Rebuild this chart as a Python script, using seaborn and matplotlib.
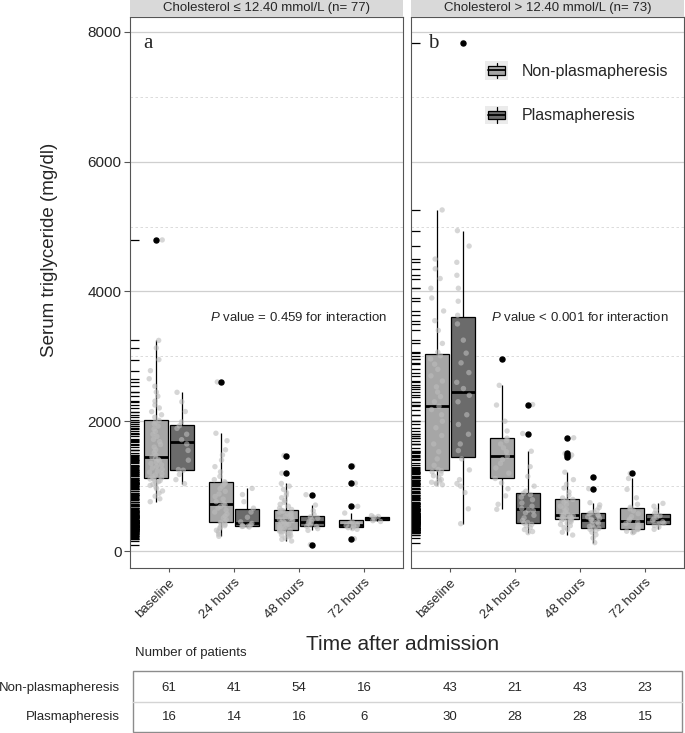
import numpy as np
import pandas as pd
import matplotlib
matplotlib.use("Agg")
import matplotlib.pyplot as plt
import matplotlib.transforms as mtransforms
from matplotlib.patches import Patch, Rectangle
from matplotlib.lines import Line2D
from matplotlib.legend_handler import HandlerBase
import seaborn as sns

# ---------------- data (mg/dl) ----------------
times = ["baseline", "24 hours", "48 hours", "72 hours"]
groups = ["Non-plasmapheresis", "Plasmapheresis"]
panel_titles = ["Cholesterol \u2264 12.40 mmol/L (n= 77)",
                "Cholesterol > 12.40 mmol/L (n= 73)"]
panel_letters = ["a", "b"]
p_texts = [r"$P$ value = 0.459 for interaction",
           r"$P$ value < 0.001 for interaction"]

# panel a : cholesterol <= 12.40
a_base_non = [760, 805, 845, 890, 925, 960, 985, 1010, 1030, 1050, 1068, 1085, 1098, 1110, 1120,
              1129, 1150, 1172, 1190, 1215, 1232, 1258, 1280, 1305, 1328, 1350, 1372, 1390, 1412,
              1430, 1446, 1482, 1518, 1560, 1602, 1640, 1685, 1720, 1765, 1800, 1842, 1880, 1925,
              1958, 1990, 2015, 2062, 2100, 2148, 2205, 2250, 2310, 2385, 2450, 2540, 2655, 2780,
              2950, 3130, 3246, 4795]
a_base_pla = [1037, 1100, 1180, 1245, 1255, 1400, 1550, 1650, 1716, 1800, 1890, 1930, 1990,
              2150, 2300, 2446]
a_24_non = [226, 260, 300, 320, 350, 370, 390, 410, 425, 440, 452, 480, 510, 540, 570, 600, 630,
            660, 690, 710, 729, 760, 800, 840, 880, 920, 960, 1000, 1030, 1050, 1068, 1100, 1150,
            1220, 1300, 1400, 1480, 1560, 1700, 1815, 2606]
a_24_pla = [370, 378, 382, 384, 390, 405, 425, 449, 520, 600, 660, 760, 870, 965]
a_48_non = [154, 180, 200, 220, 235, 250, 262, 275, 285, 295, 303, 310, 316, 320, 332, 345, 360,
            375, 390, 400, 412, 425, 437, 450, 460, 470, 474, 480, 490, 505, 520, 535, 548, 560,
            572, 585, 598, 610, 622, 630, 640, 660, 690, 720, 750, 780, 820, 860, 900, 950, 1000,
            1041, 1200, 1472]
a_48_pla = [98, 318, 345, 377, 381, 405, 425, 440, 452, 480, 505, 525, 561, 620, 708, 868]
a_72_non = [190, 334, 345, 360, 372, 380, 388, 393, 397, 410, 430, 449, 585, 688, 1046, 1314]
a_72_pla = [455, 468, 485, 521, 532, 545]

# panel b : cholesterol > 12.40
b_base_non = [1021, 1030, 1045, 1060, 1080, 1100, 1130, 1160, 1190, 1220, 1235, 1257, 1320,
              1420, 1530, 1650, 1780, 1900, 2000, 2100, 2180, 2231, 2300, 2380, 2450, 2530, 2620,
              2700, 2800, 2880, 2960, 3010, 3064, 3200, 3400, 3550, 3700, 3900, 4050, 4200, 4350,
              4500, 5257]
b_base_pla = [421, 650, 900, 1000, 1040, 1100, 1250, 1420, 1548, 1650, 1800, 1950, 2100, 2300,
              2400, 2504, 2600, 2750, 2900, 3050, 3250, 3500, 3633, 3850, 4050, 4250, 4450, 4700,
              4938, 7837]
b_24_non = [642, 720, 850, 960, 1050, 1118, 1200, 1280, 1350, 1410, 1462, 1530, 1590, 1650,
            1700, 1739, 1850, 2000, 2250, 2554, 2960]
b_24_pla = [283, 300, 330, 360, 390, 410, 430, 440, 470, 510, 550, 590, 620, 630, 654, 690, 740,
            790, 830, 870, 890, 922, 1000, 1150, 1300, 1538, 1811, 2257]
b_48_non = [246, 290, 330, 360, 390, 410, 430, 450, 465, 478, 484, 492, 500, 508, 515, 522, 528,
            535, 540, 545, 550, 554, 570, 590, 615, 640, 665, 690, 720, 750, 780, 795, 817, 860,
            910, 970, 1030, 1100, 1215, 1452, 1480, 1503, 1745]
b_48_pla = [129, 200, 250, 290, 315, 335, 348, 356, 380, 405, 430, 450, 465, 476, 490, 505, 525,
            545, 560, 575, 588, 600, 630, 670, 710, 745, 960, 1138]
b_72_non = [283, 295, 305, 318, 330, 340, 348, 370, 400, 425, 445, 462, 490, 530, 575, 620, 650,
            674, 720, 820, 950, 1118, 1195]
b_72_pla = [334, 370, 395, 415, 427, 450, 475, 498, 520, 545, 570, 580, 630, 690, 734]

panel_data = [
    {("baseline", groups[0]): a_base_non, ("baseline", groups[1]): a_base_pla,
     ("24 hours", groups[0]): a_24_non, ("24 hours", groups[1]): a_24_pla,
     ("48 hours", groups[0]): a_48_non, ("48 hours", groups[1]): a_48_pla,
     ("72 hours", groups[0]): a_72_non, ("72 hours", groups[1]): a_72_pla},
    {("baseline", groups[0]): b_base_non, ("baseline", groups[1]): b_base_pla,
     ("24 hours", groups[0]): b_24_non, ("24 hours", groups[1]): b_24_pla,
     ("48 hours", groups[0]): b_48_non, ("48 hours", groups[1]): b_48_pla,
     ("72 hours", groups[0]): b_72_non, ("72 hours", groups[1]): b_72_pla},
]

rows = []
for p, d in enumerate(panel_data):
    for (t, g), vals in d.items():
        for v in vals:
            rows.append((p, t, g, v))
df = pd.DataFrame(rows, columns=["panel", "time", "group", "value"])

# ---------------- style ----------------
sns.set_style("white")
plt.rcParams["font.family"] = ["Liberation Sans", "DejaVu Sans"]
plt.rcParams["mathtext.fontset"] = "custom"
plt.rcParams["mathtext.it"] = "Liberation Sans:italic"
plt.rcParams["mathtext.rm"] = "Liberation Sans"

c_non = "#a6a6a6"
c_pla = "#6b6b6b"
c_dot = "#bcbcbc"

W, H = 685, 733


def fbox(x0, y0, x1, y1):
    return [x0 / W, 1 - y1 / H, (x1 - x0) / W, (y1 - y0) / H]


class BoxKey(HandlerBase):
    def create_artists(self, legend, orig_handle, xdescent, ydescent, width, height, fontsize, trans):
        x0, y0 = -xdescent, -ydescent
        fc = orig_handle.get_facecolor()
        bg = Rectangle((x0, y0), width, height, facecolor="#ebebeb", edgecolor="none", transform=trans)
        cx = x0 + width / 2
        wh = Line2D([cx, cx], [y0 + 0.08 * height, y0 + 0.92 * height], color="black", lw=0.9, transform=trans)
        bx = Rectangle((x0 + 0.12 * width, y0 + 0.27 * height), 0.76 * width, 0.46 * height,
                       facecolor=fc, edgecolor="black", lw=0.9, transform=trans)
        md = Line2D([x0 + 0.12 * width, x0 + 0.88 * width], [y0 + 0.5 * height] * 2,
                    color="black", lw=1.3, transform=trans)
        return [bg, wh, bx, md]


fig = plt.figure(figsize=(W / 100, H / 100), dpi=100)
ax_a = fig.add_axes(fbox(130, 17, 403, 568))
ax_b = fig.add_axes(fbox(411, 17, 684, 568), sharey=ax_a)
axes = [ax_a, ax_b]
strips = [fig.add_axes(fbox(130, 0, 403, 17)), fig.add_axes(fbox(411, 0, 684, 17))]

np.random.seed(7)
for p, ax in enumerate(axes):
    sub = df[df.panel == p]
    sns.boxplot(data=sub, x="time", y="value", hue="group", order=times, hue_order=groups,
                palette=[c_non, c_pla], saturation=1, width=0.8, gap=0.1, linewidth=0.9,
                linecolor="black", fliersize=3.6,
                flierprops=dict(marker="o", markerfacecolor="black", markeredgecolor="black", zorder=5),
                medianprops=dict(linewidth=2, color="black"), showcaps=False,
                legend=False, ax=ax)
    sns.stripplot(data=sub, x="time", y="value", hue="group", order=times, hue_order=groups,
                  palette=[c_dot, c_dot], dodge=True, jitter=0.21, size=3.9, alpha=0.6,
                  linewidth=0, legend=False, ax=ax, zorder=3)
    sns.rugplot(data=sub, y="value", ax=ax, height=0.032, color="black", linewidth=0.9,
                expand_margins=False)

    ax.set_xlim(-0.6, 3.6)
    ax.set_ylim(-262, 8231)
    ax.set_yticks([0, 2000, 4000, 6000, 8000])
    ax.set_yticks([1000, 3000, 5000, 7000], minor=True)
    ax.grid(axis="y", which="major", color="#cfcfcf", lw=0.9)
    ax.grid(axis="y", which="minor", color="#d6d6d6", ls=(0, (3, 3)), lw=0.6)
    ax.grid(axis="x", visible=False)
    ax.set_axisbelow(True)
    ax.set_xticks(range(len(times)))
    ax.set_xticklabels(times, rotation=45, ha="right", rotation_mode="anchor", fontsize=9.5)
    ax.tick_params(axis="x", length=3, width=0.8, color="#555555", pad=3, bottom=True)
    ax.tick_params(axis="y", which="minor", length=0)
    ax.set_xlabel("")
    ax.set_ylabel("")
    for s in ax.spines.values():
        s.set_color("#555555")
        s.set_linewidth(0.8)

    ax.text([-0.32, -0.26][p], 7826, panel_letters[p], family="Liberation Serif", size=15,
            ha="center", va="center")
    ax.text(2.0, 3600, p_texts[p], ha="center", va="center", size=9.5)

    st = strips[p]
    st.set_facecolor("#d9d9d9")
    st.set_xticks([])
    st.set_yticks([])
    for s in st.spines.values():
        s.set_visible(False)
    st.text(0.5, 0.5, panel_titles[p], ha="center", va="center", size=9.5, transform=st.transAxes)

ax_a.tick_params(axis="y", which="major", length=4, width=0.8, color="#555555", labelsize=11,
                 left=True, pad=2)
ax_b.tick_params(axis="y", which="both", length=0, labelleft=False)

# legend
handles = [Patch(facecolor=c_non, label=groups[0]), Patch(facecolor=c_pla, label=groups[1])]
ax_b.legend(handles=handles, handler_map={Patch: BoxKey()}, loc="upper left",
            bbox_to_anchor=(485 / W, 1 - 61 / H), bbox_transform=fig.transFigure,
            frameon=False, borderpad=0, borderaxespad=0, handlelength=1.45, handleheight=1.45,
            handletextpad=0.85, labelspacing=1.6, fontsize=11.5)

# axis titles
fig.text(50 / W, 1 - 250 / H, "Serum triglyceride (mg/dl)", rotation=90, ha="center",
         va="center", size=13.5)
fig.text(403 / W, 1 - 645 / H, "Time after admission", ha="center", va="center", size=15)

# number-of-patients table
fig.text(135 / W, 1 - 653 / H, "Number of patients", ha="left", va="center", size=9.5)
fig.add_artist(Rectangle((133 / W, 1 - 732 / H), (682 - 133) / W, (732 - 670.7) / H,
                         transform=fig.transFigure, fill=False, edgecolor="#8c8c8c", lw=1))
fig.add_artist(Line2D([133 / W, 682 / W], [1 - 701.7 / H] * 2, transform=fig.transFigure,
                      color="#d4d4d4", lw=1))
row_y = [687.7, 716.7]
for r, g in enumerate(groups):
    fig.text(120 / W, 1 - row_y[r] / H, g, ha="right", va="center", size=9.5)
for p, ax in enumerate(axes):
    trans = mtransforms.blended_transform_factory(ax.transData, fig.transFigure)
    for i, t in enumerate(times):
        for r, g in enumerate(groups):
            ax.text(i, 1 - row_y[r] / H, str(len(panel_data[p][(t, g)])), transform=trans,
                    ha="center", va="center", size=9.5)

fig.savefig("out.png", dpi=100)
